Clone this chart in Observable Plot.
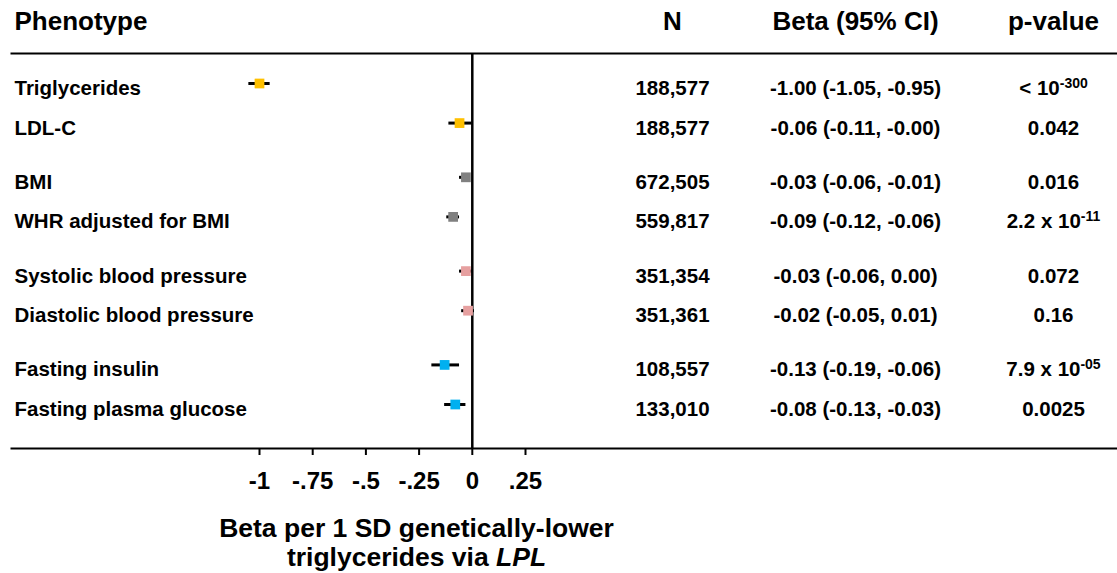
<!DOCTYPE html>
<html><head><meta charset="utf-8">
<script src="https://cdn.jsdelivr.net/npm/d3@7"></script>
<script src="https://cdn.jsdelivr.net/npm/@observablehq/plot@0.6"></script>
<style>
html,body{margin:0;padding:0;background:#fff;}
#chart svg{display:block;}
</style></head><body><div id="chart"></div>
<script>
// ---- data ----
const phenotypes = ["Triglycerides","LDL-C","BMI","WHR adjusted for BMI","Systolic blood pressure","Diastolic blood pressure","Fasting insulin","Fasting plasma glucose"];
const groups = ["Lipids","Lipids","Adiposity","Adiposity","Blood pressure","Blood pressure","Glycemic","Glycemic"];
const groupOrder = ["Lipids","Adiposity","Blood pressure","Glycemic"];
const groupColors = ["#FFC000","#808080","#E6A0A0","#00B0F0"];
const sampleSizes = [188577,188577,672505,559817,351354,351361,108557,133010];
const betas = [-1.00,-0.06,-0.03,-0.09,-0.03,-0.02,-0.13,-0.08];
const ciLower = [-1.05,-0.11,-0.06,-0.12,-0.06,-0.05,-0.19,-0.13];
const ciUpper = [-0.95,-0.00,-0.01,-0.06,0.00,0.01,-0.06,-0.03];
const pValues = ["< 10^-300","0.042","0.016","2.2 x 10^-11","0.072","0.16","7.9 x 10^-05","0.0025"];
const headers = ["Phenotype","N","Beta (95% CI)","p-value"];
const tickValues = [-1,-0.75,-0.5,-0.25,0,0.25];
const tickLabels = ["-1","-.75","-.5","-.25","0",".25"];
const axisTitle = "Beta per 1 SD genetically-lower\ntriglycerides via LPL";

// ---- layout ----
const FONT = "'Liberation Sans', Arial, Helvetica, sans-serif";
const GROUP_GAP = 0.37; // extra row spacing between groups
const fmt2 = v => ((v < 0 || Object.is(v, -0)) ? "-" : "") + Math.abs(v).toFixed(2);
const fmtN = d3.format(",");

const rows = phenotypes.map((p, i) => ({
  phenotype: p,
  group: groups[i],
  row: i + GROUP_GAP * groupOrder.indexOf(groups[i]),
  n: sampleSizes[i],
  beta: betas[i],
  lo: ciLower[i],
  hi: ciUpper[i],
  ci: `${fmt2(betas[i])} (${fmt2(ciLower[i])}, ${fmt2(ciUpper[i])})`,
  p: pValues[i]
}));
const maxRow = d3.max(rows, d => d.row);

const colN = 672, colBeta = 855, colP = 1053, left = 11;
const headerDy = -32;

const chart = Plot.plot({
  width: 1117, height: 573,
  marginTop: 53, marginBottom: 125, marginLeft: left, marginRight: 0,
  style: {fontFamily: FONT, fontWeight: "bold", color: "#000", background: "#fff"},
  x: {domain: [-1, 0.25], range: [259, 525], label: null},
  y: {domain: [0, maxRow], range: [83, 404], axis: null},
  color: {domain: groupOrder, range: groupColors},
  marks: [
    Plot.frame({anchor: "top", stroke: "#000", strokeWidth: 2}),
    Plot.frame({anchor: "bottom", stroke: "#000", strokeWidth: 2}),
    Plot.ruleX([0], {stroke: "#000", strokeWidth: 2.5}),
    Plot.axisX({ticks: tickValues, tickFormat: d => tickLabels[tickValues.indexOf(d)], tickSize: 7, tickPadding: 16, fontSize: 24, strokeWidth: 2, stroke: "#000", label: null}),
    Plot.ruleY(rows, {y: "row", x1: "lo", x2: "hi", stroke: "#000", strokeWidth: 3}),
    Plot.dot(rows, {x: "beta", y: "row", symbol: "square", r: 5.5, fill: "group", stroke: "none"}),
    // headers
    Plot.text([headers[0]], {frameAnchor: "top-left", lineAnchor: "middle", dx: 3, dy: headerDy, textAnchor: "start", fontSize: 26}),
    Plot.text([headers[1]], {frameAnchor: "top-left", lineAnchor: "middle", dx: colN - left, dy: headerDy, textAnchor: "middle", fontSize: 26}),
    Plot.text([headers[2]], {frameAnchor: "top-left", lineAnchor: "middle", dx: colBeta - left, dy: headerDy, textAnchor: "middle", fontSize: 26}),
    Plot.text([headers[3]], {frameAnchor: "top-left", lineAnchor: "middle", dx: colP - left, dy: headerDy, textAnchor: "middle", fontSize: 26}),
    // table columns
    Plot.text(rows, {y: "row", text: "phenotype", frameAnchor: "left", dx: 3, dy: 5, textAnchor: "start", fontSize: 20.5}),
    Plot.text(rows, {y: "row", text: d => fmtN(d.n), frameAnchor: "left", dx: colN - left, dy: 5, textAnchor: "middle", fontSize: 20.5}),
    Plot.text(rows, {y: "row", text: "ci", frameAnchor: "left", dx: colBeta - left, dy: 5, textAnchor: "middle", fontSize: 20.5}),
    Plot.text(rows, {y: "row", text: "p", frameAnchor: "left", dx: colP - left, dy: 5, textAnchor: "middle", fontSize: 20.5}),
    // axis title
    Plot.text([axisTitle], {frameAnchor: "bottom-left", dx: 416 - left, dy: 69, lineAnchor: "top", textAnchor: "middle", fontSize: 26.5, lineHeight: 1.06})
  ]
});

// superscripts for p-values
const NS = "http://www.w3.org/2000/svg";
chart.querySelectorAll("text").forEach(t => {
  if (t.children.length === 0 && t.textContent.includes("^")) {
    const [base, exp] = t.textContent.split("^");
    t.textContent = base;
    const ts = document.createElementNS(NS, "tspan");
    ts.setAttribute("font-size", 14);
    ts.setAttribute("dy", -7);
    ts.textContent = exp;
    t.appendChild(ts);
  }
});
// italic gene name
chart.querySelectorAll("tspan").forEach(ts => {
  if (ts.textContent === "triglycerides via LPL") {
    ts.textContent = "triglycerides via ";
    const it = document.createElementNS(NS, "tspan");
    it.setAttribute("font-style", "italic");
    it.textContent = "LPL";
    ts.appendChild(it);
  }
});
document.getElementById("chart").appendChild(chart);
</script>
</body></html>
